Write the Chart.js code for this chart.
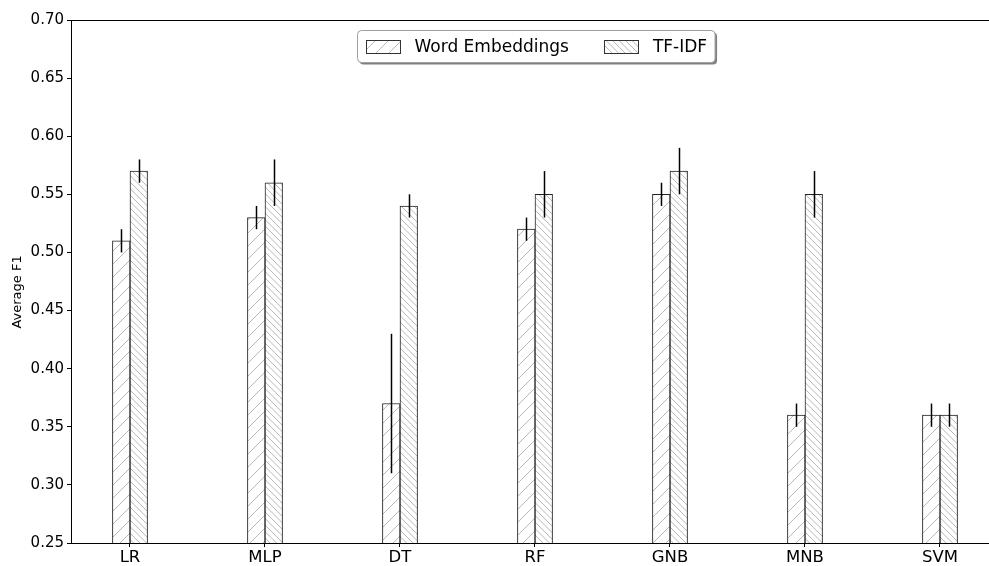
<!DOCTYPE html>
<html>
<head>
<meta charset="utf-8">
<script src="https://cdn.jsdelivr.net/npm/chart.js@4/dist/chart.umd.min.js"></script>
<style>
  html, body { margin: 0; padding: 0; background: #fff; }
  canvas { display: block; }
</style>
</head>
<body>
<canvas id="chart" width="989" height="566"></canvas>
<script>
// Classifiers compared, and their average F1 (mean and spread) per feature type
const categories = ['LR', 'MLP', 'DT', 'RF', 'GNB', 'MNB', 'SVM'];
const wordEmbeddings = [0.51, 0.53, 0.37, 0.52, 0.55, 0.36, 0.36];
const wordEmbeddingsErr = [0.01, 0.01, 0.06, 0.01, 0.01, 0.01, 0.01];
const tfidf = [0.57, 0.56, 0.54, 0.55, 0.57, 0.55, 0.36];
const tfidfErr = [0.01, 0.02, 0.01, 0.02, 0.02, 0.02, 0.01];
const yTicks = [0.25, 0.30, 0.35, 0.40, 0.45, 0.50, 0.55, 0.60, 0.65, 0.70];
const seriesLabels = ['Word Embeddings', 'TF-IDF'];
const yTitle = 'Average F1';

const FONT = '"DejaVu Sans", "Liberation Sans", sans-serif';
const BAR_W = 0.13;          // bar width in category units
const HATCH_COLOR = '#b8b8b8';

// Diagonal hatch fill: '/' rising lines, '\' falling lines
function hatch(dir, linesPerTile) {
  const s = 13;
  const c = document.createElement('canvas');
  c.width = s; c.height = s;
  const g = c.getContext('2d');
  g.fillStyle = '#fff';
  g.fillRect(0, 0, s, s);
  g.strokeStyle = HATCH_COLOR;
  g.lineWidth = 1;
  g.beginPath();
  const step = s / linesPerTile;
  for (let o = -s; o <= s; o += step) {
    if (dir === '/') { g.moveTo(o, s); g.lineTo(o + s, 0); }
    else { g.moveTo(o, 0); g.lineTo(o + s, s); }
  }
  g.stroke();
  return g.createPattern(c, 'repeat');
}

const patWE = hatch('/', 1);
const patTF = hatch('\\', 2);

const errors = [wordEmbeddingsErr, tfidfErr];

// Vertical error bars through each bar's centre
const errorBars = {
  id: 'errorBars',
  afterDatasetsDraw(chart) {
    const ctx = chart.ctx;
    const y = chart.scales.y;
    ctx.save();
    ctx.strokeStyle = '#000';
    ctx.lineWidth = 1.5;
    chart.data.datasets.forEach((ds, di) => {
      const meta = chart.getDatasetMeta(di);
      meta.data.forEach((bar, i) => {
        const v = ds.data[i].y;
        const e = errors[di][i];
        ctx.beginPath();
        ctx.moveTo(Math.round(bar.x) + 0.5, y.getPixelForValue(v + e));
        ctx.lineTo(Math.round(bar.x) + 0.5, y.getPixelForValue(v - e));
        ctx.stroke();
      });
    });
    ctx.restore();
  }
};

// Top spine, y-axis title and framed legend with shadow
const frame = {
  id: 'frame',
  afterDraw(chart) {
    const ctx = chart.ctx;
    const a = chart.chartArea;
    ctx.save();
    ctx.strokeStyle = '#000';
    ctx.lineWidth = 1;
    ctx.beginPath();
    ctx.moveTo(a.left, Math.round(a.top) + 0.5);
    ctx.lineTo(a.right, Math.round(a.top) + 0.5);
    ctx.stroke();

    // y-axis title
    ctx.save();
    ctx.translate(18, a.top + (a.bottom - a.top) * 0.52);
    ctx.rotate(-Math.PI / 2);
    ctx.font = '13px ' + FONT;
    ctx.fillStyle = '#000';
    ctx.textAlign = 'center';
    ctx.textBaseline = 'middle';
    ctx.fillText(yTitle, 0, 0);
    ctx.restore();

    // legend
    ctx.font = '17px ' + FONT;
    const pad = 8, handleW = 34, handleH = 13, textPad = 15, colSpace = 35;
    const widths = seriesLabels.map(t => ctx.measureText(t).width);
    const total = pad * 2 + widths.reduce((s, w) => s + handleW + textPad + w, 0) + colSpace;
    const bh = 32;
    const cx = 536;
    const x0 = Math.round(cx - total / 2) + 0.5;
    const y0 = Math.round(a.top + 10) + 0.5;

    function rrect(x, yy, w, h, r) {
      ctx.beginPath();
      ctx.moveTo(x + r, yy);
      ctx.lineTo(x + w - r, yy);
      ctx.arcTo(x + w, yy, x + w, yy + r, r);
      ctx.lineTo(x + w, yy + h - r);
      ctx.arcTo(x + w, yy + h, x + w - r, yy + h, r);
      ctx.lineTo(x + r, yy + h);
      ctx.arcTo(x, yy + h, x, yy + h - r, r);
      ctx.lineTo(x, yy + r);
      ctx.arcTo(x, yy, x + r, yy, r);
      ctx.closePath();
    }
    ctx.fillStyle = 'rgba(0,0,0,0.5)';
    rrect(x0 + 2, y0 + 2, total, bh, 4);
    ctx.fill();
    ctx.fillStyle = '#fff';
    ctx.strokeStyle = '#a0a0a0';
    rrect(x0, y0, total, bh, 4);
    ctx.fill();
    ctx.stroke();

    let x = x0 + pad;
    const midY = y0 + bh / 2;
    chart.data.datasets.forEach((ds, i) => {
      ctx.fillStyle = ds.backgroundColor;
      ctx.fillRect(Math.round(x), Math.round(midY - handleH / 2), handleW, handleH);
      ctx.strokeStyle = '#333';
      ctx.strokeRect(Math.round(x) + 0.5, Math.round(midY - handleH / 2) + 0.5, handleW, handleH);
      x += handleW + textPad;
      ctx.fillStyle = '#000';
      ctx.textBaseline = 'middle';
      ctx.textAlign = 'left';
      ctx.fillText(seriesLabels[i], x, midY + 1);
      x += widths[i] + colSpace;
    });
    ctx.restore();
  }
};

Chart.defaults.font.family = FONT;
Chart.defaults.color = '#000';

new Chart(document.getElementById('chart'), {
  type: 'bar',
  data: {
    datasets: [
      {
        label: seriesLabels[0],
        data: categories.map((c, i) => ({ x: i - BAR_W / 2, y: wordEmbeddings[i] })),
        backgroundColor: patWE,
        borderColor: '#222',
        borderWidth: 1,
        borderSkipped: false,
        grouped: false,
        barPercentage: 1,
        categoryPercentage: 1
      },
      {
        label: seriesLabels[1],
        data: categories.map((c, i) => ({ x: i + BAR_W / 2, y: tfidf[i] })),
        backgroundColor: patTF,
        borderColor: '#222',
        borderWidth: 1,
        borderSkipped: false,
        grouped: false,
        barPercentage: 1,
        categoryPercentage: 1
      }
    ]
  },
  options: {
    responsive: false,
    animation: false,
    devicePixelRatio: 1,
    layout: { padding: { top: 20, right: 0, left: 0, bottom: 0 } },
    plugins: {
      legend: { display: false },
      tooltip: { enabled: false }
    },
    scales: {
      x: {
        type: 'linear',
        offset: false,
        min: -0.437,
        max: 6.363,
        afterBuildTicks: (scale) => { scale.ticks = categories.map((c, i) => ({ value: i })); },
        afterFit: (scale) => { scale.height = 23; },
        ticks: {
          autoSkip: false,
          maxRotation: 0,
          padding: 1,
          font: { size: 16.5 },
          callback: (v) => categories[v] ?? ''
        },
        grid: { display: true, drawOnChartArea: false, drawTicks: true, tickLength: 4, color: '#000', offset: false },
        border: { display: true, color: '#000', width: 1 }
      },
      y: {
        min: 0.25,
        max: 0.70,
        afterBuildTicks: (scale) => { scale.ticks = yTicks.map(v => ({ value: v })); },
        afterFit: (scale) => { scale.width = 71; },
        ticks: {
          padding: 3,
          font: { size: 15 },
          callback: (v) => Number(v).toFixed(2)
        },
        grid: { display: true, drawOnChartArea: false, drawTicks: true, tickLength: 4, color: '#000' },
        border: { display: true, color: '#000', width: 1 },
        title: { display: false }
      }
    }
  },
  plugins: [errorBars, frame]
});
</script>
</body>
</html>
